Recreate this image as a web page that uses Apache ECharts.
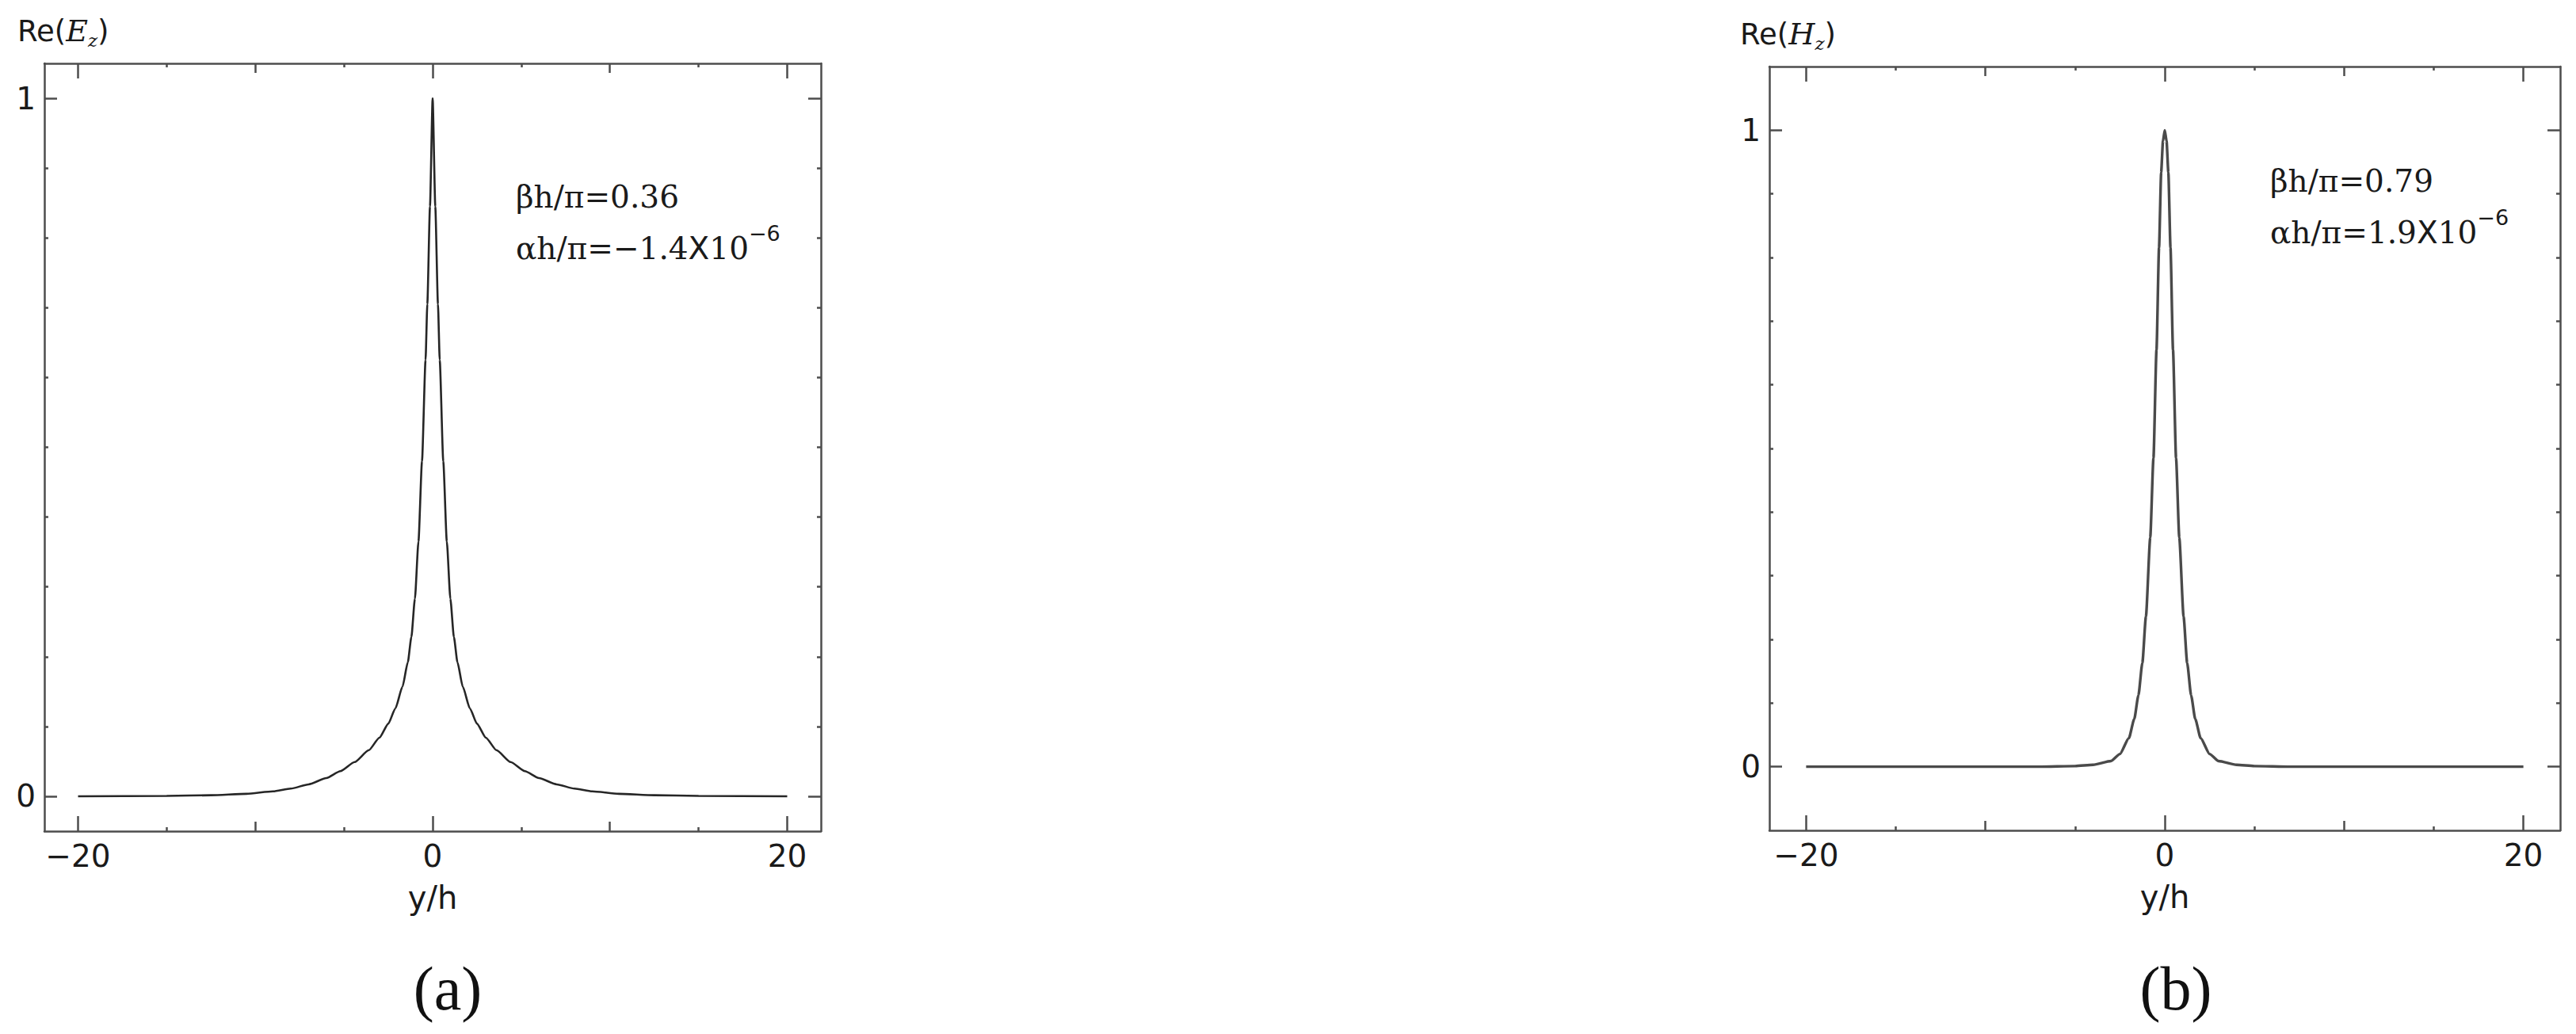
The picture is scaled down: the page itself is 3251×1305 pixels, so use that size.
<!DOCTYPE html>
<html>
<head>
<meta charset="utf-8">
<script src="https://cdn.jsdelivr.net/npm/echarts@6/dist/echarts.min.js"></script>
<style>
html,body{margin:0;padding:0;background:#fff;}
#chart{width:3251px;height:1305px;}
</style>
</head>
<body>
<div id="chart"></div>
<script>
// ---- data ----
// (a) Re(Ez) versus y/h
const xE = [-20, -15, -12.5, -10.5, -9, -8, -7, -6, -5.2, -4.4, -3.6, -3, -2.5, -2.1, -1.7, -1.4, -1.2, -1, -0.8, -0.6, -0.4, -0.3, -0.15, 0,
            0.15, 0.3, 0.4, 0.6, 0.8, 1, 1.2, 1.4, 1.7, 2.1, 2.5, 3, 3.6, 4.4, 5.2, 6, 7, 8, 9, 10.5, 12.5, 15, 20];
const yE = [0, 0.0005, 0.0015, 0.0035, 0.007, 0.011, 0.017, 0.026, 0.036, 0.049, 0.066, 0.084, 0.104, 0.126, 0.157, 0.192, 0.228, 0.283, 0.365, 0.480, 0.625, 0.705, 0.845, 1,
            0.845, 0.705, 0.625, 0.480, 0.365, 0.283, 0.228, 0.192, 0.157, 0.126, 0.104, 0.084, 0.066, 0.049, 0.036, 0.026, 0.017, 0.011, 0.007, 0.0035, 0.0015, 0.0005, 0];
// (b) Re(Hz) versus y/h
const xH = [-20, -12, -7, -5, -4, -3, -2.5, -2, -1.7, -1.47, -1.25, -1.05, -0.81, -0.63, -0.46, -0.32, -0.2, -0.1, 0,
            0.1, 0.2, 0.32, 0.46, 0.63, 0.81, 1.05, 1.25, 1.47, 1.7, 2, 2.5, 3, 4, 5, 7, 12, 20];
const yH = [0, 0, 0, 0.001, 0.003, 0.009, 0.02, 0.045, 0.075, 0.112, 0.163, 0.236, 0.36, 0.485, 0.655, 0.815, 0.934, 0.983, 1,
            0.983, 0.934, 0.815, 0.655, 0.485, 0.36, 0.236, 0.163, 0.112, 0.075, 0.045, 0.02, 0.009, 0.003, 0.001, 0, 0, 0];
// tick values
const xTickMajor = [-20, 0, 20];
const xTickMid = [-10, 10];
const xTickMinor = [-15, -5, 5, 15];
const yTickMajor = [0, 1];
const yTickMinor = [0.1, 0.2, 0.3, 0.4, 0.5, 0.6, 0.7, 0.8, 0.9];
// text
const xName = 'y/h';
const annotA = ['βh/π=0.36', 'αh/π=−1.4', '10', '−6'];
const annotB = ['βh/π=0.79', 'αh/π=1.9', '10', '−6'];

const FRAME = '#4d4d4d';
const SANS = '"DejaVu Sans", sans-serif';
const SERIF = '"DejaVu Serif", serif';
const minus = v => String(v).replace('-', '\u2212');

function xAxes(gi, xmin, xmax) {
  const out = [];
  ['bottom', 'top'].forEach(pos => {
    [[xTickMajor, 19], [xTickMid, 12], [xTickMinor, 5]].forEach(([vals, len], k) => {
      const main = (k === 0);
      out.push({
        type: 'value', gridIndex: gi, position: pos, min: xmin, max: xmax,
        axisLine: { show: main, onZero: false, lineStyle: { color: FRAME, width: 2.5 } },
        axisTick: { show: true, inside: true, length: len, customValues: vals, lineStyle: { color: FRAME, width: 2.5 } },
        axisLabel: { show: main && pos === 'bottom', customValues: xTickMajor, margin: 12,
                     fontSize: 39, fontFamily: SANS, color: '#1a1a1a', formatter: minus },
        splitLine: { show: false },
        name: (main && pos === 'bottom') ? xName : '',
        nameLocation: 'middle', nameGap: 64,
        nameTextStyle: { fontSize: 40, fontFamily: SANS, color: '#1a1a1a' }
      });
    });
  });
  return out;
}
function yAxes(gi, ymin, ymax) {
  const out = [];
  ['left', 'right'].forEach(pos => {
    [[yTickMajor, 16], [yTickMinor, 5]].forEach(([vals, len], k) => {
      const main = (k === 0);
      out.push({
        type: 'value', gridIndex: gi, position: pos, min: ymin, max: ymax,
        axisLine: { show: main, onZero: false, lineStyle: { color: FRAME, width: 2.5 } },
        axisTick: { show: true, inside: true, length: len, customValues: vals, lineStyle: { color: FRAME, width: 2.5 } },
        axisLabel: { show: main && pos === 'left', customValues: yTickMajor, margin: 11,
                     fontSize: 39, fontFamily: SANS, color: '#1a1a1a' },
        splitLine: { show: false }
      });
    });
  });
  return out;
}

const xs = [...xAxes(0, -21.9, 21.9), ...xAxes(1, -22.05, 22.05)];
const ys = [...yAxes(0, -0.05, 1.05), ...yAxes(1, -0.1, 1.1)];

function reLabel(x, y, letter) {
  return {
    type: 'text', x: x, y: y,
    style: {
      text: '{a|Re(}{e|' + letter + '}{s|z}{a|)}',
      rich: {
        a: { fontSize: 37, fontFamily: SANS, fill: '#1a1a1a', lineHeight: 46 },
        e: { fontSize: 38, fontFamily: SERIF, fontStyle: 'italic', fill: '#1a1a1a', lineHeight: 46 },
        s: { fontSize: 23, fontFamily: SERIF, fontStyle: 'italic', fill: '#1a1a1a', lineHeight: 22, verticalAlign: 'bottom' }
      }
    }
  };
}
function annot(x, y, t) {
  return {
    type: 'text', x: x, y: y,
    style: {
      text: '{m|' + t[0] + '}\n{m|' + t[1] + '}{x|X}{m|' + t[2] + '}{p|' + t[3] + '}',
      rich: {
        m: { fontSize: 39, fontFamily: SERIF, fill: '#1a1a1a', lineHeight: 65 },
        x: { fontSize: 39, fontFamily: SANS, fill: '#1a1a1a', lineHeight: 65 },
        p: { fontSize: 27, fontFamily: SANS, fill: '#1a1a1a', lineHeight: 38, verticalAlign: 'top' }
      }
    }
  };
}

const option = {
  backgroundColor: '#ffffff',
  animation: false,
  grid: [
    { left: 56, top: 80, width: 980, height: 969 },
    { left: 2233, top: 84, width: 998, height: 964 }
  ],
  xAxis: xs,
  yAxis: ys,
  series: [
    { type: 'line', xAxisIndex: 0, yAxisIndex: 0, showSymbol: false, smooth: 0.2, smoothMonotone: 'x',
      lineStyle: { color: '#262626', width: 2.6 }, data: xE.map((x, i) => [x, yE[i]]) },
    { type: 'line', xAxisIndex: 6, yAxisIndex: 4, showSymbol: false, smooth: 0.2, smoothMonotone: 'x',
      lineStyle: { color: '#4a4a4a', width: 3.4 }, data: xH.map((x, i) => [x, yH[i]]) }
  ],
  graphic: [
    reLabel(22, 16, 'E'),
    reLabel(2196, 20, 'H'),
    annot(651, 216, annotA),
    annot(2865, 196, annotB),
    { type: 'text', x: 565, y: 1247, style: { text: '(a)', font: '78px "Liberation Serif"', fill: '#111', textAlign: 'center', textVerticalAlign: 'middle' } },
    { type: 'text', x: 2746, y: 1247, style: { text: '(b)', font: '78px "Liberation Serif"', fill: '#111', textAlign: 'center', textVerticalAlign: 'middle' } }
  ]
};

const chart = echarts.init(document.getElementById('chart'), null, { renderer: 'svg', width: 3251, height: 1305 });
chart.setOption(option);
</script>
</body>
</html>
